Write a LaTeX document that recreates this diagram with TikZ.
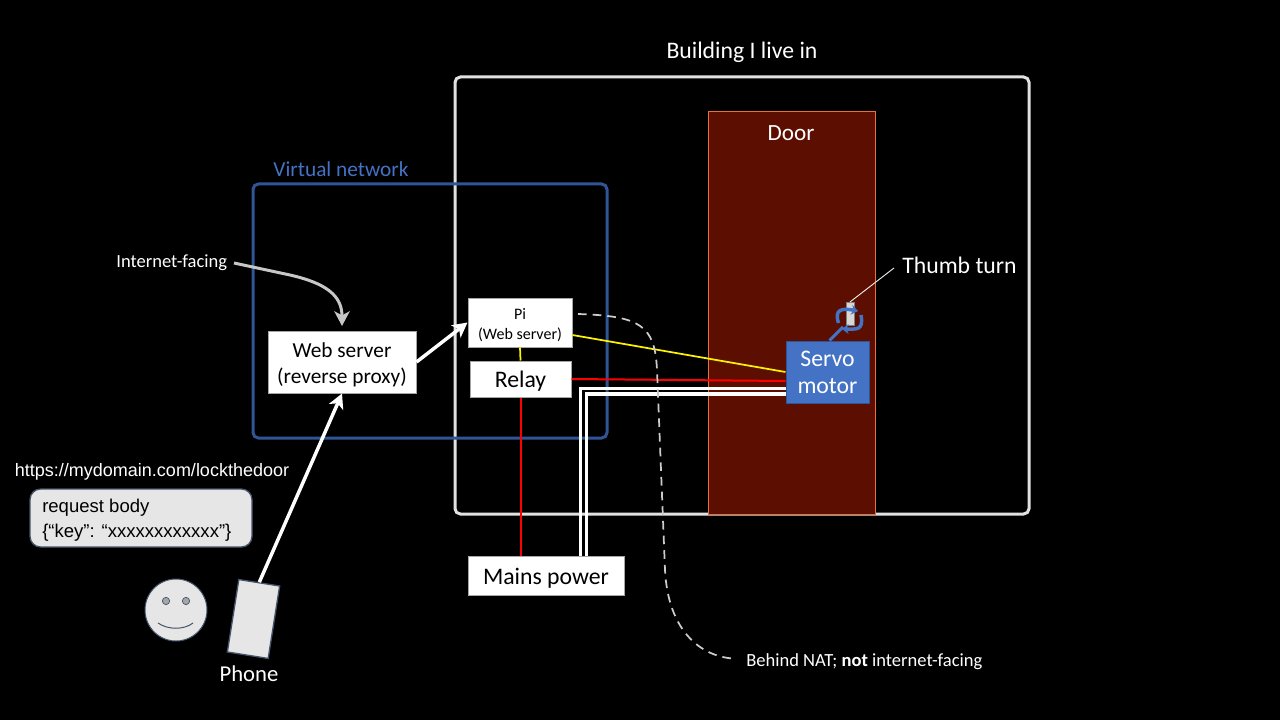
\documentclass[tikz,border=0pt]{standalone}
\usepackage{fontspec}
\setmainfont{Carlito}
\newfontfamily\arialfont{Liberation Sans}
\usetikzlibrary{arrows.meta}
\usetikzlibrary{positioning}
\definecolor{doorred}{HTML}{5C0F00}
\definecolor{doorline}{HTML}{E8703A}
\definecolor{netblue}{HTML}{2F5597}
\definecolor{servoblue}{HTML}{4472C4}
\definecolor{softgray}{HTML}{E7E6E6}
\definecolor{slateline}{HTML}{44546A}
% box text sits a little under the middle of its box
\newcommand{\boxtext}[1]{\raisebox{-2.25pt}[\height][\depth]{\begin{tabular}{@{}c@{}}#1\end{tabular}}}
\tikzset{
    whitebox/.style={
           rectangle,
           draw=gray!70, fill=white,
           text=black,
           line width=0.75pt,
           inner sep=0pt,
           align=center,
           },
    caption/.style={
           text=white,
           inner sep=0pt,
           align=center,
           font=\fontsize{17.8}{21}\selectfont,
           },
    smallcaption/.style={
           text=white,
           inner sep=0pt,
           font=\fontsize{13.9}{16}\selectfont,
           },
    region/.style={
           rectangle,
           rounded corners=4pt,
           line width=2.25pt,
           inner sep=0pt,
           },
    mainsline/.style={white, line width=2.8pt},
    signal/.style={yellow, line width=1.3pt},
    liveline/.style={red, line width=1.5pt},
    turnarrow/.style={servoblue, line width=2.6pt, -{Stealth[length=5pt,width=7.5pt]}},
}

\begin{document}
\begin{tikzpicture}[x=0.75pt,y=-0.75pt,->,>={Stealth[length=11pt,width=11.5pt,inset=3pt]}]

 % canvas
 \fill[black] (0,0) rectangle (1280,720);
 \useasboundingbox (0,0) rectangle (1280,720);

 % the two regions and the door
 \node[region,draw=softgray!95!gray,minimum width=430.5pt,minimum height=327.75pt] (building) at (742,295.5) {};
 \node[caption] (building label) at (742,52.5) {Building I live in};
 \node[rectangle,draw=doorline,fill=doorred,line width=0.75pt,minimum width=125.25pt,minimum height=301.5pt] (door) at (791.5,313) {};
 \node[caption,font=\fontsize{17.4}{21}\selectfont] (door label) at (791,133) {Door};
 \node[region,draw=netblue,minimum width=265.5pt,minimum height=190.5pt] (vnet) at (430,311) {};
 \node[caption,text=servoblue,font=\fontsize{16}{19}\selectfont] (vnet label) at (341,169.5) {Virtual network};

 % boxes
 \node[whitebox,font=\fontsize{16}{19.5}\selectfont,minimum width=111pt,minimum height=46.5pt] (web) at (342,362)
 {\boxtext{Web server\\(reverse proxy)}};
 \node[whitebox,font=\fontsize{12}{15}\selectfont,minimum width=78pt,minimum height=36.75pt] (pi) at (520,322.5)
 {\boxtext{Pi\\(Web server)}};
 \node[whitebox,font=\fontsize{17.8}{21}\selectfont,minimum width=75.75pt,minimum height=27pt] (relay) at (520.5,379) {\boxtext{Relay}};
 \node[whitebox,font=\fontsize{17.8}{21}\selectfont,minimum width=117pt,minimum height=29.25pt] (mains) at (546,575.5) {\boxtext{Mains power}};
 \node[rectangle,draw=netblue,fill=servoblue,text=white,line width=0.75pt,inner sep=0pt,align=center,
  font=\fontsize{17.8}{20.25}\selectfont,minimum width=62.25pt,minimum height=46.5pt] (servo) at (827.5,372) {\boxtext{Servo\\motor}};

 % wires between the boxes
 \coordinate (outer corner) at (580.5,388.5);
 \coordinate (inner corner) at (586.5,394);
 \path[-] (pi.south) edge[signal] (relay.north)
 ([yshift=-9.4pt]pi.east) edge[signal] (servo.west)
 (relay.east) edge[liveline] ([yshift=-6.75pt]servo.west)
 (relay.south) edge[liveline] (relay.south |- mains.north);
 \draw[-,mainsline] (outer corner |- mains.north) -- (outer corner) -- (outer corner -| servo.west);
 \draw[-,mainsline] (inner corner |- mains.north) -- (inner corner) -- (inner corner -| servo.west);

 % thumb turn
 \node[rectangle,fill=softgray!85!gray,draw=gray,line width=0.3pt,minimum width=6pt,minimum height=17pt,inner sep=0pt] (thumb) at (850,313.5) {};
 \node[caption,anchor=west] (thumb label) at (902,265.5) {Thumb turn};
 \draw[-,white!85!gray,line width=0.7pt] (thumb.north) -- (894,268);
 \draw[-,line width=2.2pt,servoblue] (servo.north) ++(2,0) -- (843,327);
 \draw[turnarrow] (838.5,323) .. controls (834,309) and (842,308) .. (858,311);
 \draw[turnarrow] (861,315) .. controls (864,331) and (856,329) .. (842,329);

 % phone and visitor
 \node[rectangle,rotate=-9,draw=slateline,fill=softgray,line width=1pt,minimum width=31pt,minimum height=55pt,inner sep=0pt] (phone) at (253.5,619) {};
 \node[caption,font=\fontsize{17}{21}\selectfont] (phone label) at (249,673.5) {Phone};
 \node[circle,draw=slateline,fill=softgray,line width=0.75pt,minimum size=46.5pt,inner sep=0pt] (face) at (176,610) {};
 \node[circle,draw=slateline,fill=gray!70,line width=0.5pt,minimum size=5.5pt,inner sep=0pt,above left=6.75pt and 7.5pt of face.center,anchor=center] (left eye) {};
 \node[circle,draw=slateline,fill=gray!70,line width=0.5pt,minimum size=5.5pt,inner sep=0pt,above right=6.75pt and 7.5pt of face.center,anchor=center] (right eye) {};
 \draw[-,slateline,line width=0.75pt] (158,623) .. controls (168,630) and (184,630) .. (193,623);

 % request
 \node[text=white,inner sep=0pt,font=\arialfont\fontsize{13.5}{16}\selectfont] (url) at (152,471.5) {https://mydomain.com/lockthedoor};
 \node[region,rounded corners=8pt,draw=slateline,fill=softgray,line width=1pt,minimum width=166.5pt,minimum height=43.5pt] (request) at (141,518) {};
 \node[anchor=west,text=black,inner sep=0pt,align=left,font=\arialfont\fontsize{13.9}{18.75}\selectfont] (request text) at (42,520.5)
 {request body\\\{“key”: “xxxxxxxxxxxx”\}};

 % notes
 \node[smallcaption,anchor=east,inner xsep=5pt] (facing) at (234,263) {Internet-facing};
 \node[smallcaption,anchor=west,inner xsep=8.25pt] (behind) at (735,662) {Behind NAT; \textbf{not} internet-facing};

 % arrows
 \draw[->,white,line width=2.6pt] (phone.north) -- (web.south);
 \draw[->,white,line width=2.6pt] (web.east) -- (pi.west);
 \draw[->,softgray!70!gray,line width=2.25pt] (facing.east) -- (290,275) .. controls (325,283) and (342,295) .. (342,326);
 \draw[-,softgray!75!gray,line width=1.3pt,dash pattern=on 6.5pt off 4.5pt] (578,314) .. controls (640,316) and (655,325) .. (657,370)
 -- (665,570) .. controls (668,630) and (700,657) .. ([yshift=2.5pt]behind.west);

\end{tikzpicture}
\end{document}
